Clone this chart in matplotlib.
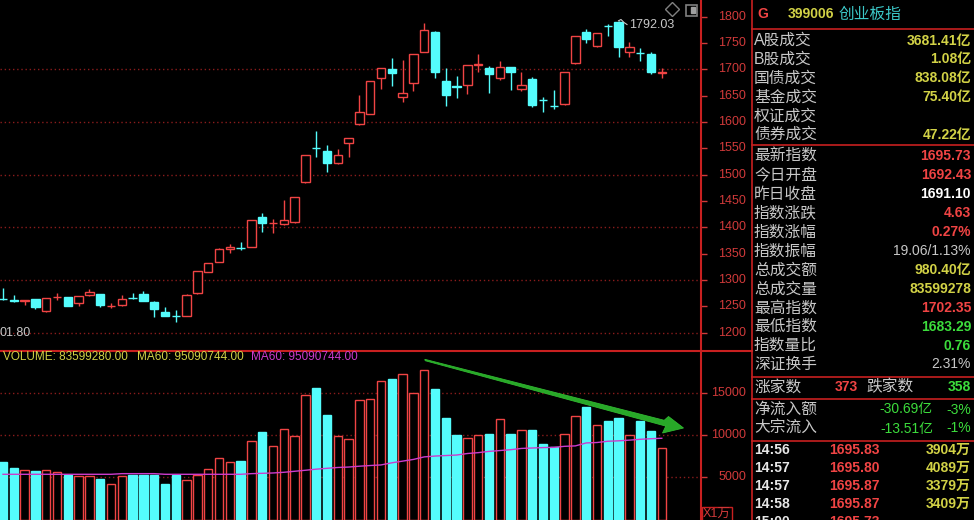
import numpy as np
import matplotlib.pyplot as plt
from matplotlib.patches import Polygon, Rectangle

plt.rcParams['font.family'] = ['Liberation Sans', 'Noto Sans CJK SC', 'DejaVu Sans']

# daily candles of 399006
opens = [1264.6, 1261.5, 1260.0, 1263.6, 1242.0, 1268.0, 1267.4, 1256.0, 1271.0, 1273.6,
         1251.0, 1252.2, 1267.0, 1273.0, 1259.0, 1238.9, 1232.3, 1232.4, 1275.0, 1316.0,
         1335.0, 1358.4, 1361.4, 1363.4, 1419.2, 1407.8, 1405.9, 1409.7, 1486.7, 1551.1,
         1545.0, 1522.8, 1559.6, 1596.0, 1615.7, 1684.0, 1700.0, 1648.0, 1673.4, 1733.4,
         1771.3, 1677.8, 1667.4, 1670.2, 1708.3, 1702.0, 1684.0, 1703.8, 1662.6, 1681.6,
         1642.1, 1630.8, 1633.6, 1711.4, 1771.3, 1744.8, 1782.6, 1789.2, 1733.4, 1730.8,
         1728.5, 1692.43]
highs = [1284.5, 1272.0, 1263.0, 1264.0, 1266.0, 1276.0, 1268.0, 1270.0, 1282.6, 1274.0,
         1256.0, 1271.0, 1276.0, 1278.7, 1260.0, 1248.4, 1243.3, 1273.0, 1318.0, 1333.0,
         1360.3, 1368.5, 1372.3, 1415.0, 1426.8, 1415.4, 1452.0, 1458.0, 1538.0, 1583.0,
         1556.4, 1548.0, 1570.0, 1651.0, 1678.5, 1703.0, 1722.0, 1717.6, 1729.0, 1787.3,
         1772.0, 1702.0, 1687.3, 1709.0, 1728.5, 1706.0, 1715.8, 1704.5, 1694.3, 1684.8,
         1646.9, 1660.7, 1695.0, 1764.0, 1776.0, 1769.0, 1785.4, 1792.03, 1752.4, 1741.0,
         1733.4, 1702.35]
lows = [1262.0, 1258.0, 1253.0, 1244.6, 1240.0, 1262.0, 1250.0, 1251.0, 1270.0, 1248.4,
        1247.6, 1251.0, 1263.6, 1260.0, 1230.6, 1232.0, 1221.0, 1231.0, 1274.0, 1315.0,
        1334.0, 1350.9, 1357.0, 1362.0, 1391.8, 1390.0, 1404.0, 1408.5, 1483.7, 1534.0,
        1505.7, 1521.0, 1534.0, 1595.0, 1615.0, 1662.6, 1669.0, 1637.4, 1658.8, 1732.5,
        1684.0, 1631.0, 1645.0, 1653.0, 1695.4, 1655.6, 1679.7, 1660.0, 1659.4, 1629.0,
        1619.5, 1624.0, 1632.0, 1710.5, 1749.3, 1741.7, 1763.8, 1722.8, 1723.9, 1716.3,
        1690.5, 1683.29]
closes = [1264.1, 1261.0, 1262.0, 1248.4, 1265.5, 1268.8, 1251.4, 1269.3, 1277.4, 1253.3,
          1251.8, 1264.7, 1266.6, 1261.0, 1244.6, 1232.4, 1231.9, 1271.7, 1317.3, 1332.0,
          1358.4, 1363.4, 1361.0, 1414.0, 1407.8, 1408.3, 1414.0, 1457.0, 1537.4, 1550.7,
          1522.8, 1537.4, 1569.0, 1619.5, 1677.8, 1702.0, 1693.5, 1654.5, 1728.5, 1774.6,
          1695.4, 1651.2, 1667.0, 1708.2, 1710.8, 1690.5, 1703.8, 1695.4, 1670.2, 1632.3,
          1641.7, 1630.4, 1694.3, 1763.2, 1757.0, 1768.3, 1782.2, 1741.7, 1741.7, 1730.4,
          1694.3, 1695.73]
# volume in 万
volumes = [6832, 6123, 5851, 5733, 5851, 5615, 5296, 5142, 5142, 4823,
           4196, 5142, 5296, 5296, 5296, 4196, 5296, 4669, 5260, 5969,
           7269, 6761, 6915, 9279, 10378, 8688, 10697, 9834, 14716, 15579,
           12352, 9870, 9515, 14125, 14207, 16371, 16607, 17198, 14988, 17671,
           15425, 11997, 9988, 9598, 9988, 10106, 11844, 10106, 10543, 10579,
           8924, 8605, 10071, 12198, 13333, 11135, 11679, 11997, 9988, 11679,
           10496, 8416]
ma60 = [5343, 5343, 5343, 5343, 5343, 5343, 5343, 5343, 5343, 5343,
        5343, 5420, 5420, 5420, 5420, 5343, 5343, 5343, 5343, 5343,
        5343, 5343, 5343, 5420, 5460, 5500, 5580, 5700, 5820, 5950,
        6050, 6150, 6200, 6300, 6380, 6450, 6700, 6900, 7100, 7400,
        7500, 7560, 7620, 7800, 7900, 8050, 8150, 8250, 8400, 8450,
        8500, 8530, 8650, 8700, 9050, 9100, 9250, 9300, 9380, 9480,
        9550, 9600]

price_ticks = [1200, 1250, 1300, 1350, 1400, 1450, 1500, 1550, 1600, 1650, 1700, 1750, 1800]
price_grid = [1200, 1300, 1400, 1500, 1600, 1700]
vol_ticks = [5000, 10000, 15000]

info_labels = ['A股成交', 'B股成交', '国债成交', '基金成交', '权证成交', '债券成交']
info_values = ['3681.41亿', '1.08亿', '838.08亿', '75.40亿', '', '47.22亿']
quote_labels = ['最新指数', '今日开盘', '昨日收盘', '指数涨跌', '指数涨幅', '指数振幅',
                '总成交额', '总成交量', '最高指数', '最低指数', '指数量比', '深证换手']
quote_values = ['1695.73', '1692.43', '1691.10', '4.63', '0.27%', '19.06/1.13%',
                '980.40亿', '83599278', '1702.35', '1683.29', '0.76', '2.31%']
quote_kinds = ['red', 'red', 'white', 'red', 'red', 'gray',
               'yellow', 'yellow', 'red', 'green', 'green', 'gray']
tick_times = ['14:56', '14:57', '14:57', '14:58', '15:00']
tick_prices = ['1695.83', '1695.80', '1695.87', '1695.87', '1695.73']
tick_vols = ['3904万', '4089万', '3379万', '3409万', '']

RED = '#f04444'
CYAN = '#54fcfc'
AXRED = '#d03a3a'
GRID = '#8a1c1c'
YEL = '#d2d246'
GRN = '#3cdc3c'
GRAY = '#c8c8c8'
MAG = '#cc3ccc'
COLORS = {'red': RED, 'white': '#ffffff', 'gray': GRAY, 'yellow': YEL, 'green': GRN}

W, H = 974, 520


def px_rect(x0, y0, x1, y1):
    return [x0 / W, 1 - y1 / H, (x1 - x0) / W, (y1 - y0) / H]


fig = plt.figure(figsize=(W / 100, H / 100), dpi=100, facecolor='black')
ax_p = fig.add_axes(px_rect(0, 0, 701, 350), facecolor='black')
ax_v = fig.add_axes(px_rect(0, 350, 701, 520), facecolor='black')

o = np.array(opens)
c = np.array(closes)
hi = np.array(highs)
lo = np.array(lows)
idx = np.arange(len(o))
up = c >= o
col = np.where(up, RED, CYAN)
body_top = np.maximum(o, c)
body_bot = np.minimum(o, c)

# candles: wicks outside the body, hollow red / filled cyan bodies
ax_p.vlines(idx, body_top, hi, colors=col, lw=1, zorder=2)
ax_p.vlines(idx, lo, body_bot, colors=col, lw=1, zorder=2)
ax_p.bar(idx, body_top - body_bot, bottom=body_bot, width=0.78,
         color=np.where(up, 'black', CYAN), edgecolor=col, lw=1, zorder=3)

for v in price_grid:
    ax_p.axhline(v, color=GRID, lw=1, ls=(0, (1, 2)), zorder=1)
ax_p.set_xlim(-3 / 10.8, 698 / 10.8)
ax_p.set_ylim(1167.4, 1831.5)

# volume bars + MA60
ax_v.bar(idx, volumes, width=0.78, color=np.where(up, 'black', CYAN),
         edgecolor=col, lw=1, zorder=3)
ax_v.plot(idx, ma60, color=MAG, lw=1, zorder=4)
for v in vol_ticks:
    ax_v.axhline(v, color=GRID, lw=1, ls=(0, (1, 2)), zorder=1)
ax_v.set_xlim(-3 / 10.8, 698 / 10.8)
ax_v.set_ylim(-59, 20035)

for ax, ticks in ((ax_p, price_ticks), (ax_v, vol_ticks)):
    for s in ax.spines.values():
        s.set_visible(False)
    ax.set_xticks([])
    ax.yaxis.tick_right()
    ax.set_yticks(ticks)
    ax.tick_params(axis='y', colors=AXRED, length=4, width=1, direction='out',
                   labelright=False)
    for v in ticks:
        ax.text(1 + 45 / 701, v, str(v), transform=ax.get_yaxis_transform(),
                ha='right', va='center', color=AXRED, fontsize=9, clip_on=False)

ax_v.text(3 / 701, 357, '', transform=ax_v.transAxes)

# overlay in pixel coordinates for frame lines, labels and the info panel
ov = fig.add_axes([0, 0, 1, 1])
ov.set_xlim(0, W)
ov.set_ylim(H, 0)
ov.axis('off')
ov.patch.set_visible(False)

ov.plot([701, 701], [0, H], color='#c82020', lw=1.5)
ov.plot([751.5, 751.5], [0, H], color='#c82020', lw=1.2)
ov.plot([0, 751.5], [350.5, 350.5], color='#c82020', lw=1.5)
for y in (28.5, 145, 376.5, 398.5, 440.5):
    ov.plot([751.5, W], [y, y], color='#c82020', lw=1.2)
ov.add_patch(Rectangle((701.5, 506.5), 30, 20, fill=False, edgecolor='#c82020', lw=1))
ov.text(703, 515, 'X1万', color=AXRED, fontsize=9, va='center')

ov.text(3, 357, 'VOLUME: 83599280.00', color=YEL, fontsize=8.5, va='center')
ov.text(137, 357, 'MA60: 95090744.00', color=YEL, fontsize=8.5, va='center')
ov.text(251, 357, 'MA60: 95090744.00', color=MAG, fontsize=8.5, va='center')

ov.text(0, 333.5, '01.80', color=GRAY, fontsize=9, va='center')
ov.plot([618.5, 621, 624, 627], [20.8, 19.5, 22.5, 24.5], color=GRAY, lw=0.8)
ov.text(629, 25, '1792.03', color=GRAY, fontsize=9, va='center')
ov.plot([672], [9], marker='D', ms=7, mfc='none', mec='#808080', mew=1)
ov.add_patch(Rectangle((685.5, 4.5), 11, 11, fill=False, edgecolor='#808080', lw=1.2))
ov.add_patch(Rectangle((691, 7), 3.5, 6, color='#a0a0a0'))

# green trend arrow
ov.add_patch(Polygon([(424.8, 359.3), (664.2, 420.3), (668.5, 416.5), (683.5, 428),
                      (662.5, 433), (665.8, 426.1), (425.2, 360.7)],
                     closed=True, facecolor='#28a828', edgecolor='#30b830', lw=0.6))

# info panel
ov.text(757, 14, 'G', color=RED, fontsize=10, fontweight='bold', va='center')
ov.text(788, 14, '399006', color=YEL, fontsize=10, fontweight='bold', va='center')
ov.text(839, 14, '创业板指', color='#3cc8c8', fontsize=11.3, va='center')

for k, (lab, val) in enumerate(zip(info_labels, info_values)):
    y = 40.7 + 18.8 * k
    ov.text(754, y, lab, color=GRAY, fontsize=11.3, va='center')
    ov.text(971, y, val, color=YEL, fontsize=10, fontweight='bold', ha='right', va='center')

for k, (lab, val, kind) in enumerate(zip(quote_labels, quote_values, quote_kinds)):
    y = 156.5 + 18.9 * k
    ov.text(754, y, lab, color=GRAY, fontsize=11.3, va='center')
    ov.text(971, y, val, color=COLORS[kind], fontsize=10, ha='right', va='center',
            fontweight='normal' if kind == 'gray' else 'bold')

ov.text(754, 387, '涨家数', color=GRAY, fontsize=11.3, va='center')
ov.text(858, 387, '373', color=RED, fontsize=10, fontweight='bold', ha='right', va='center')
ov.text(866, 387, '跌家数', color=GRAY, fontsize=11.3, va='center')
ov.text(971, 387, '358', color=GRN, fontsize=10, fontweight='bold', ha='right', va='center')

ov.text(754, 409.5, '净流入额', color=GRAY, fontsize=11.3, va='center')
ov.text(933, 409.5, '-30.69亿', color=GRN, fontsize=10, ha='right', va='center')
ov.text(971, 409.5, '-3%', color=GRN, fontsize=10, ha='right', va='center')
ov.text(754, 428.5, '大宗流入', color=GRAY, fontsize=11.3, va='center')
ov.text(933, 428.5, '-13.51亿', color=GRN, fontsize=10, ha='right', va='center')
ov.text(971, 428.5, '-1%', color=GRN, fontsize=10, ha='right', va='center')

for k, (t, p, v) in enumerate(zip(tick_times, tick_prices, tick_vols)):
    y = 450 + 18 * k
    ov.text(754, y, t, color='#e6e6e6', fontsize=10, fontweight='bold', va='center')
    ov.text(880, y, p, color=RED, fontsize=10, fontweight='bold', ha='right', va='center')
    ov.text(971, y, v, color=YEL, fontsize=10, fontweight='bold', ha='right', va='center')

fig.savefig('out.png', dpi=100, facecolor='black')
